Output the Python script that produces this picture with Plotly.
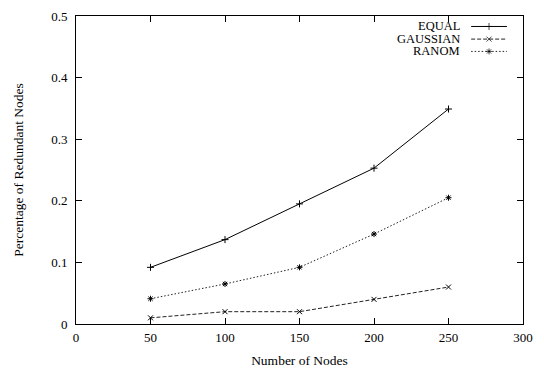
import plotly.graph_objects as go

nodes = [50, 100, 150, 200, 250]
equal = [0.092, 0.137, 0.195, 0.253, 0.349]
gaussian = [0.010, 0.020, 0.020, 0.040, 0.060]
ranom = [0.041, 0.065, 0.092, 0.146, 0.205]

x_ticks = [0, 50, 100, 150, 200, 250, 300]
y_ticks = [0, 0.1, 0.2, 0.3, 0.4, 0.5]
y_tick_labels = ["0", "0.1", "0.2", "0.3", "0.4", "0.5"]

series = [
    ("EQUAL", equal, "solid", "cross-thin", "#000000"),
    ("GAUSSIAN", gaussian, "4px,2px", "x-thin", "#222222"),
    ("RANOM", ranom, "1.5px,2px", "asterisk-open", "#222222"),
]

FONT = "Liberation Serif"
fig = go.Figure()
for name, vals, dash, sym, col in series:
    fig.add_trace(go.Scatter(
        x=nodes, y=vals, mode="lines+markers", name=name, showlegend=False,
        line=dict(color=col, width=1, dash=dash),
        marker=dict(symbol=sym, size=5, color="#000000",
                    line=dict(width=1, color="#000000")),
    ))

# gnuplot-style legend: text right-aligned, sample line to the right
leg_y = [0.966, 0.925, 0.885]
for (name, vals, dash, sym, col), ly in zip(series, leg_y):
    fig.add_trace(go.Scatter(
        x=[0.884, 0.924, 0.964], y=[ly, ly, ly], xaxis="x2", yaxis="y2",
        mode="lines+markers", showlegend=False, hoverinfo="skip",
        line=dict(color=col, width=1, dash=dash),
        marker=dict(symbol=sym, size=[0, 5, 0], color="#000000",
                    line=dict(width=1, color="#000000")),
    ))
    fig.add_annotation(x=0.862, y=ly, xref="x2", yref="y2", text=name,
                       showarrow=False, xanchor="right", yanchor="middle",
                       borderpad=0,
                       font=dict(family=FONT, size=12.5, color="#000000"))

axis_common = dict(showgrid=False, zeroline=False, showline=True, linecolor="#000000",
                   linewidth=1, mirror="allticks", ticks="inside", ticklen=6,
                   tickcolor="#000000", tickfont=dict(family=FONT, size=13, color="#000000"))

fig.update_layout(
    width=544, height=374,
    margin=dict(l=76, r=21, t=9, b=44),
    paper_bgcolor="white", plot_bgcolor="white",
    xaxis=dict(range=[0, 300], tickvals=x_ticks, ticktext=[str(t) for t in x_ticks],
               ticklabelstandoff=1,
               title=dict(text="Number of Nodes", font=dict(family=FONT, size=13.5, color="#000000"), standoff=11),
               **axis_common),
    yaxis=dict(range=[0, 0.5], tickvals=y_ticks, ticktext=y_tick_labels,
               ticklabelstandoff=5,
               title=dict(text="Percentage of Redundant Nodes", font=dict(family=FONT, size=13.5, color="#000000"), standoff=24),
               **axis_common),
    xaxis2=dict(range=[0, 1], overlaying="x", visible=False, fixedrange=True),
    yaxis2=dict(range=[0, 1], overlaying="y", visible=False, fixedrange=True),
    showlegend=False,
)

fig.write_html("out.html", config={"displayModeBar": False},
               post_script="document.body.style.margin='0';document.body.style.overflow='hidden';")
